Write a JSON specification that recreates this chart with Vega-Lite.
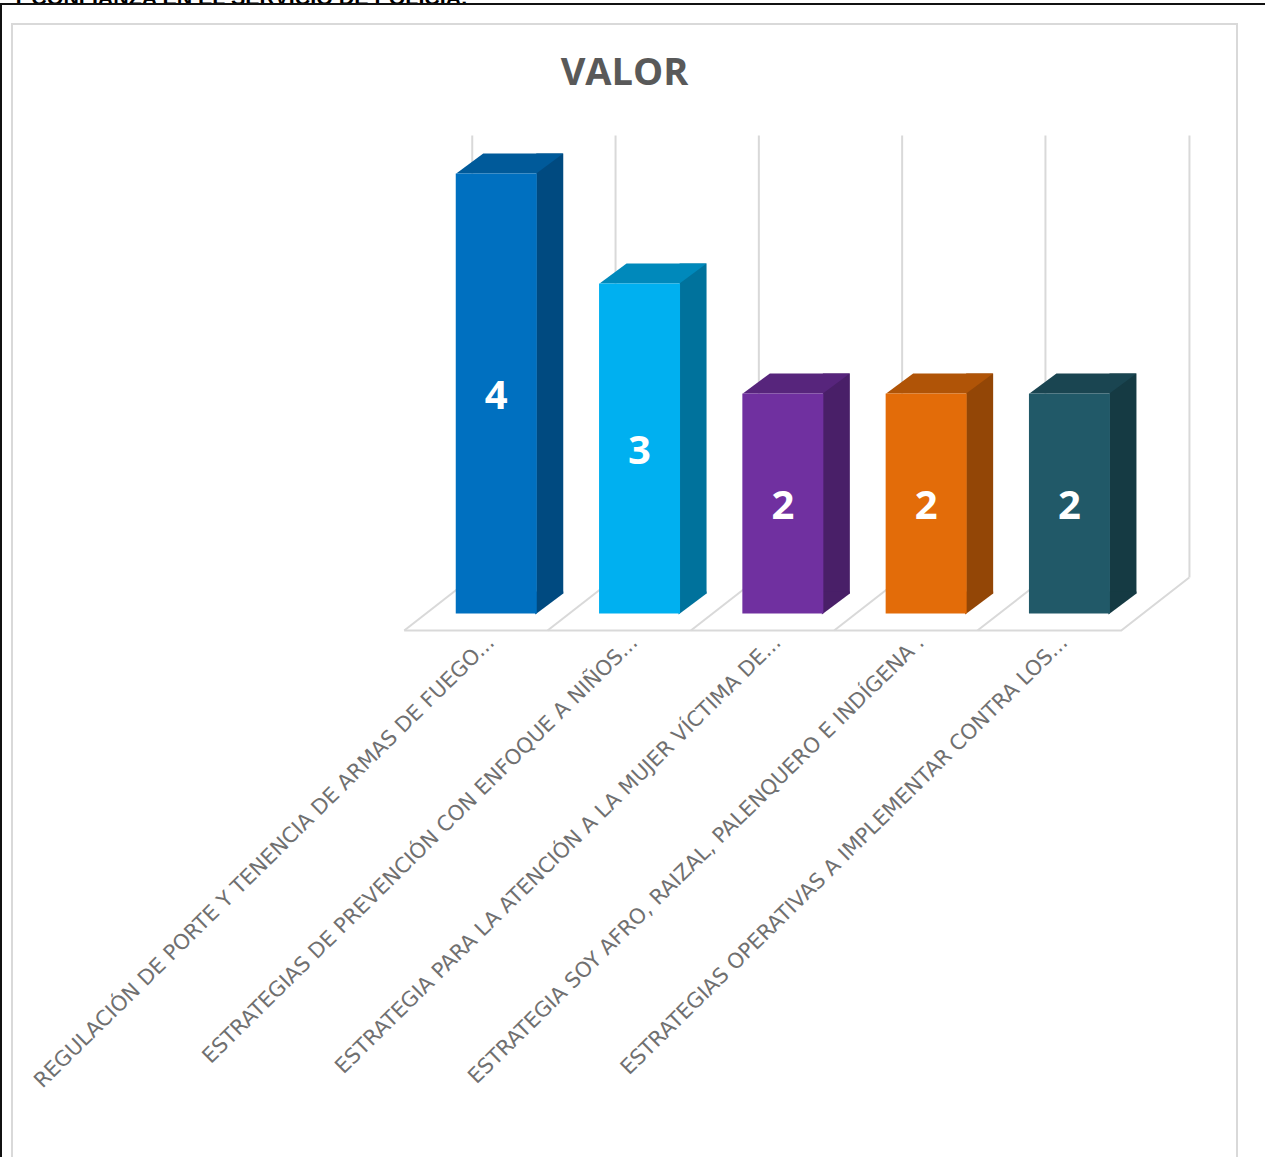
{
"$schema":"https://vega.github.io/schema/vega-lite/v6.json",
"width":1225,"height":1145,
"autosize":{"type":"none"},
"padding":{"left":12,"top":24,"right":28,"bottom":0},
"background":"white",
"config":{"view":{"stroke":"#d9d9d9","strokeWidth":2}},
"title":{"text":"VALOR","anchor":"middle","frame":"group","offset":-62,"dy":74,"baseline":"alphabetic","font":"Open Sans","fontWeight":"bold","fontSize":38,"color":"#595959"},
"datasets":{"barras":[
{"orden":1,"categoria":"REGULACIÓN DE PORTE Y TENENCIA DE ARMAS DE FUEGO...","valor":4},
{"orden":2,"categoria":"ESTRATEGIAS DE PREVENCIÓN CON ENFOQUE A NIÑOS...","valor":3},
{"orden":3,"categoria":"ESTRATEGIA PARA LA ATENCIÓN A LA MUJER VÍCTIMA DE...","valor":2},
{"orden":4,"categoria":"ESTRATEGIA SOY AFRO, RAIZAL, PALENQUERO E INDÍGENA .","valor":2},
{"orden":5,"categoria":"ESTRATEGIAS  OPERATIVAS A IMPLEMENTAR CONTRA LOS...","valor":2}
]},
"layer":[
{"data":{"name":"barras"},
"encoding":{
"x":{"field":"categoria","type":"nominal","sort":null,"title":"Y CONFIANZA EN EL SERVICIO DE POLICIA.",
"scale":{"range":[412.6,1129.1],"paddingInner":0,"paddingOuter":0},
"axis":{"orient":"bottom","offset":-534,"domain":false,"ticks":false,"grid":false,"labelAngle":-44.5,"labelAlign":"right","labelBaseline":"middle","labelPadding":4,"labelOffset":-5,"labelLimit":0,"labelOverlap":false,"labelFont":"DejaVu Sans","labelFontSize":21,"labelColor":"#707070",
"titleX":-1,"titleY":-631,"titleAlign":"left","titleAnchor":"start","titleBaseline":"alphabetic","titleFont":"Liberation Sans","titleFontWeight":"bold","titleFontSize":21.4,"titleColor":"#000000"}},
"y":{"field":"valor","type":"quantitative","scale":{"domain":[0,4],"range":[589.5,149.5],"nice":false,"zero":true},"axis":null}
},
"resolve":{"scale":{"color":"independent"}},
"layer":[
{"transform":[{"filter":"datum.orden===1"}],
 "mark":{"type":"point","filled":false,"size":4,"stroke":"#d9d9d9","strokeWidth":2,"opacity":1,"shape":"M-92,17 L625,17 L693,-36"},
 "encoding":{"y":{"datum":0}}},
{"mark":{"type":"point","filled":false,"size":4,"stroke":"#d9d9d9","strokeWidth":2,"opacity":1,"shape":"M-24,-36 L-92,17"},
 "encoding":{"y":{"datum":0}}},
{"mark":{"type":"rule","stroke":"#d9d9d9","strokeWidth":2,"xOffset":-24},
 "encoding":{"y":{"datum":0.327},"y2":{"datum":4.345}}},
{"transform":[{"filter":"datum.orden===5"}],
 "mark":{"type":"rule","stroke":"#d9d9d9","strokeWidth":2,"xOffset":120},
 "encoding":{"y":{"datum":0.327},"y2":{"datum":4.345}}},
{"mark":{"type":"bar","width":27,"xOffset":53.5,"yOffset":-20,"y2Offset":-20},
 "encoding":{"y2":{"datum":0},"color":{"field":"orden","type":"nominal","legend":null,"scale":{"range":["#004A80","#00729C","#491F68","#934606","#153A43"]}}}},
{"mark":{"type":"point","filled":true,"size":4,"opacity":1,"strokeWidth":0,"shape":"M39,-22 L67,-22 L67,-20 L39,1 Z"},
 "encoding":{"y":{"datum":0},"color":{"field":"orden","type":"nominal","legend":null,"scale":{"range":["#004A80","#00729C","#491F68","#934606","#153A43"]}}}},
{"mark":{"type":"point","filled":true,"size":4,"opacity":1,"strokeWidth":0,"shape":"M-40,0 L-13,-20 L67,-20 L40,0 Z"},
 "encoding":{"color":{"field":"orden","type":"nominal","legend":null,"scale":{"range":["#005A9A","#0089BB","#57257C","#B05407","#1A4551"]}}}},
{"mark":{"type":"bar","width":81},
 "encoding":{"y2":{"datum":0},"color":{"field":"orden","type":"nominal","legend":null,"scale":{"range":["#0070C0","#00B0F0","#7030A0","#E36C09","#215968"]}}}},
{"transform":[{"calculate":"datum.valor/2","as":"medio"}],
 "mark":{"type":"text","font":"Open Sans","fontWeight":"bold","fontSize":40,"color":"white","baseline":"middle","dy":3},
 "encoding":{"y":{"field":"medio","type":"quantitative"},"text":{"field":"valor","type":"quantitative"}}}
]},
{"data":{"values":[{"a":0,"b":0},{"a":0,"b":1},{"a":1,"b":1}]},
 "mark":{"type":"line","stroke":"#111111","strokeWidth":2,"clip":false},
 "encoding":{
 "x":{"field":"a","type":"quantitative","axis":null,"scale":{"domain":[0,1],"range":[-11,1253]}},
 "y":{"field":"b","type":"quantitative","axis":null,"scale":{"domain":[0,1],"range":[1150,-20]}},
 "order":{"field":"a"}}}
],
"resolve":{"scale":{"x":"independent","y":"independent"}}
}
